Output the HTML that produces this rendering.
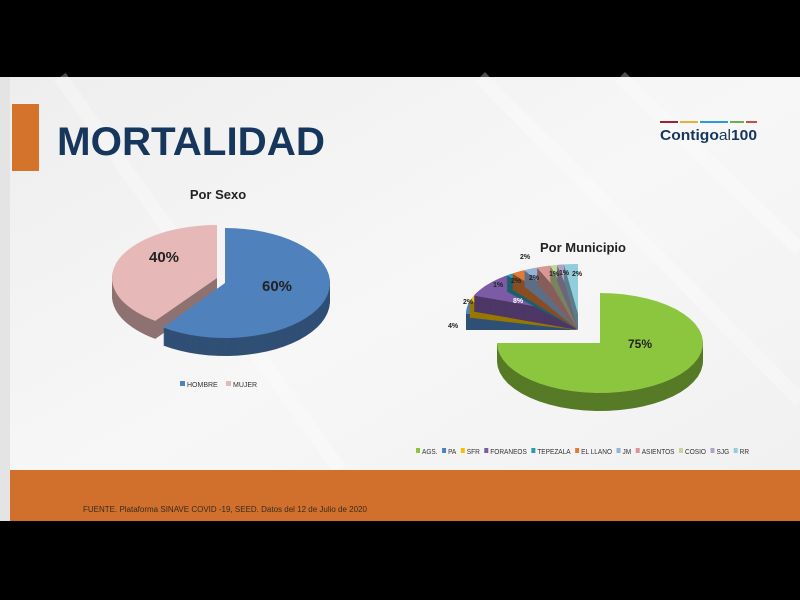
<!DOCTYPE html>
<html><head><meta charset="utf-8"><style>
html,body{margin:0;padding:0;background:#000;width:800px;height:600px;overflow:hidden}
svg{display:block}
text{font-family:"Liberation Sans",sans-serif}
</style></head><body>
<svg id="s" width="800" height="600" xmlns="http://www.w3.org/2000/svg">
<defs>
<linearGradient id="bg" x1="0" y1="0" x2="1" y2="1">
<stop offset="0" stop-color="#eeeeee"/><stop offset="0.5" stop-color="#f7f7f7"/><stop offset="1" stop-color="#f0f0f0"/>
</linearGradient>
</defs>
<rect x="0" y="0" width="800" height="600" fill="#000"/>
<rect x="0" y="77" width="800" height="444" fill="url(#bg)"/>
<g stroke="#ffffff" stroke-width="14" opacity="0.3">
<line x1="60" y1="77" x2="340" y2="470"/>
<line x1="480" y1="77" x2="800" y2="400"/>
<line x1="620" y1="77" x2="800" y2="250"/>
</g>
<rect x="0" y="77" width="10" height="444" fill="#e4e4e4"/>
<rect x="12" y="104" width="27" height="67" fill="#d4732a"/>
<text x="57" y="155" font-size="40" font-weight="bold" fill="#16365c" textLength="268" lengthAdjust="spacingAndGlyphs">MORTALIDAD</text>
<g>
<rect x="660" y="121" width="18" height="2" fill="#9b2335"/>
<rect x="680" y="121" width="18" height="2" fill="#e0b43a"/>
<rect x="700" y="121" width="28" height="2" fill="#2b9bd3"/>
<rect x="730" y="121" width="14" height="2" fill="#6ab04c"/>
<rect x="746" y="121" width="11" height="2" fill="#c0504d"/>
<text x="660" y="140" font-size="15" font-weight="bold" fill="#16365c" textLength="97" lengthAdjust="spacingAndGlyphs">Contigo<tspan font-weight="normal">al</tspan>100</text>
</g>
<text x="218" y="199" font-size="13" font-weight="bold" fill="#222" text-anchor="middle">Por Sexo</text>
<text x="583" y="252" font-size="13" font-weight="bold" fill="#222" text-anchor="middle">Por Municipio</text>
<g id="pies"></g>
<text x="277" y="291" font-size="15" font-weight="bold" fill="#222" text-anchor="middle">60%</text>
<text x="164" y="262" font-size="15" font-weight="bold" fill="#222" text-anchor="middle">40%</text>
<text x="640" y="348" font-size="12" font-weight="bold" fill="#222" text-anchor="middle">75%</text>
<g font-size="7" font-weight="bold" fill="#222">
<text x="448" y="328">4%</text><text x="463" y="304">2%</text><text x="513" y="303" fill="#fff">8%</text>
<text x="493" y="287">1%</text><text x="511" y="283">2%</text><text x="529" y="280">2%</text>
<text x="520" y="259">2%</text><text x="549" y="276">1%</text><text x="559" y="275">1%</text><text x="572" y="276">2%</text>
</g>
<g font-size="7" fill="#333">
<rect x="180" y="381" width="5" height="5" fill="#4f81bd"/><text x="187" y="387">HOMBRE</text>
<rect x="226" y="381" width="5" height="5" fill="#e6b9b8"/><text x="233" y="387">MUJER</text>
</g>
<g id="leg" font-size="7" fill="#333"></g>
<rect x="10" y="470" width="790" height="51" fill="#d0702c"/>
<text x="83" y="512" font-size="8" fill="#3a2a20">FUENTE. Plataforma SINAVE COVID -19, SEED. Datos del 12 de Julio de 2020</text>
</svg>
<script>
var NS="http://www.w3.org/2000/svg",G=document.getElementById("pies");
function dark(c,f){var n=parseInt(c.slice(1),16);var r=(n>>16)*f|0,g=((n>>8)&255)*f|0,b=(n&255)*f|0;return "rgb("+r+","+g+","+b+")";}
function path(cx,cy,rx,ry,a0,a1){var d="M"+cx+","+cy;for(var i=0;i<=40;i++){var t=(a0+(a1-a0)*i/40)*Math.PI/180;d+=" L"+(cx+rx*Math.sin(t)).toFixed(2)+","+(cy-ry*Math.cos(t)).toFixed(2);}return d+"Z";}
function slice(cx,cy,rx,ry,a0,a1,col,dep){for(var k=dep;k>=1;k--){var p=document.createElementNS(NS,"path");p.setAttribute("d",path(cx,cy+k,rx,ry,a0,a1));p.setAttribute("fill",dark(col,0.62));G.appendChild(p);}var p=document.createElementNS(NS,"path");p.setAttribute("d",path(cx,cy,rx,ry,a0,a1));p.setAttribute("fill",col);G.appendChild(p);}
slice(217,278,105,53,216,360,"#e6b9b8",18);
slice(225,283,105,55,0,216,"#4f81bd",18);
var sl=[["PA",4,"#4f81bd"],["SFR",2,"#f5c000"],["FORANEOS",8,"#7b5aa6"],["TEPEZALA",1,"#2a9bb0"],["EL LLANO",2,"#e07b39"],["JM",2,"#95b3d7"],["ASIENTOS",2,"#d99694"],["COSIO",1,"#c3d69b"],["SJG",1,"#b2a2c7"],["RR",2,"#93cddd"]];
var a=270;
for(var i=0;i<sl.length;i++){var b=a+sl[i][1]*3.6;slice(578,314,112,50,a,b,sl[i][2],16);a=b;}
slice(600,343,103,50,0,270,"#8cc63f",18);
var L=document.getElementById("leg"),x=416,all=[["AGS.",0,"#8cc63f"]].concat(sl);
all.forEach(function(s){var r=document.createElementNS(NS,"rect");r.setAttribute("x",x);r.setAttribute("y",448);r.setAttribute("width",4);r.setAttribute("height",5);r.setAttribute("fill",s[2]);L.appendChild(r);var t=document.createElementNS(NS,"text");t.setAttribute("x",x+6);t.setAttribute("y",454);t.textContent=s[0];L.appendChild(t);var w=t.getComputedTextLength()*0.93;t.setAttribute("textLength",w);t.setAttribute("lengthAdjust","spacingAndGlyphs");x+=6+w+4.5;});
</script>
</body></html>
